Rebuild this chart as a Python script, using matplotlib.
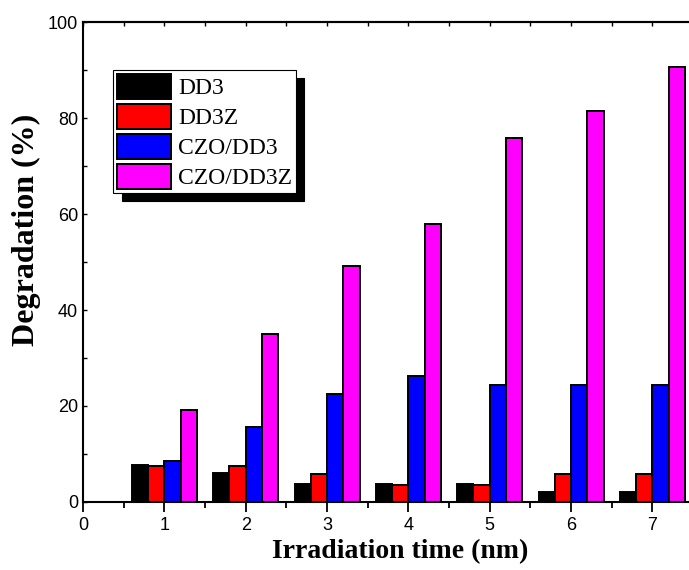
import numpy as np
import matplotlib
matplotlib.use("Agg")
import matplotlib.pyplot as plt
from matplotlib.ticker import MultipleLocator

# data
times = [1, 2, 3, 4, 5, 6, 7]
series = ["DD3", "DD3Z", "CZO/DD3", "CZO/DD3Z"]
dd3 = [7.7, 6.0, 3.8, 3.8, 3.8, 2.0, 2.0]
dd3z = [7.5, 7.5, 5.8, 3.5, 3.5, 5.8, 5.8]
czo_dd3 = [8.6, 15.6, 22.6, 26.2, 24.4, 24.4, 24.4]
czo_dd3z = [19.2, 35.0, 49.2, 58.0, 75.8, 81.4, 90.6]
colors = ["#000000", "#ff0000", "#0000ff", "#ff00ff"]

fig = plt.figure(figsize=(6.89, 5.70), dpi=100)
ax = fig.add_axes([0.1205, 0.1193, 0.8795, 0.8421])

x = np.array(times, dtype=float)
width = 0.2
offsets = [-0.3, -0.1, 0.1, 0.3]
for vals, off, col, lab in zip([dd3, dd3z, czo_dd3, czo_dd3z], offsets, colors, series):
    ax.bar(x + off, vals, width, color=col, edgecolor="black", linewidth=1.4, label=lab, zorder=2)

ax.set_xlim(0, 7.45)
ax.set_ylim(0, 100)
ax.xaxis.set_major_locator(MultipleLocator(1))
ax.xaxis.set_minor_locator(MultipleLocator(0.5))
ax.yaxis.set_major_locator(MultipleLocator(20))
ax.yaxis.set_minor_locator(MultipleLocator(10))

for s in ["left", "bottom", "top"]:
    ax.spines[s].set_linewidth(1.5)
ax.spines["right"].set_visible(False)

ax.tick_params(axis="x", which="major", direction="out", length=7, width=1.3,
               labelsize=13, top=False)
ax.tick_params(axis="x", which="minor", direction="out", length=4, width=1.3, top=False)
ax.tick_params(axis="y", which="both", direction="in", length=3, width=1.0,
               labelsize=13, right=False)
for t in ax.get_xticklabels() + ax.get_yticklabels():
    t.set_fontfamily("Liberation Sans")

# little inward ticks along the top spine
sec = ax.secondary_xaxis("top")
sec.xaxis.set_major_locator(MultipleLocator(1))
sec.xaxis.set_minor_locator(MultipleLocator(0.5))
sec.tick_params(which="both", direction="in", length=3, width=1.0, labeltop=False)
sec.spines["top"].set_linewidth(1.5)

ax.set_xlabel("Irradiation time (nm)", fontfamily="Liberation Serif",
              fontweight="bold", fontsize=20, labelpad=5)
ax.xaxis.set_label_coords(0.523, -0.077)
ax.set_ylabel("Degradation (%)", fontfamily="Liberation Serif",
              fontweight="bold", fontsize=23)
ax.yaxis.set_label_coords(-0.07, 0.567)

leg = ax.legend(loc="upper left", bbox_to_anchor=(0.05, 0.9), borderaxespad=0,
                prop={"family": "Liberation Serif", "size": 17},
                frameon=True, fancybox=False, edgecolor="black",
                shadow={"ox": 6, "oy": -6, "color": "black", "alpha": 1},
                handlelength=2.3, handleheight=1.25, handletextpad=0.3,
                labelspacing=0.2, borderpad=0.15)
leg.get_frame().set_linewidth(0.8)

fig.savefig("out.png", dpi=100)
